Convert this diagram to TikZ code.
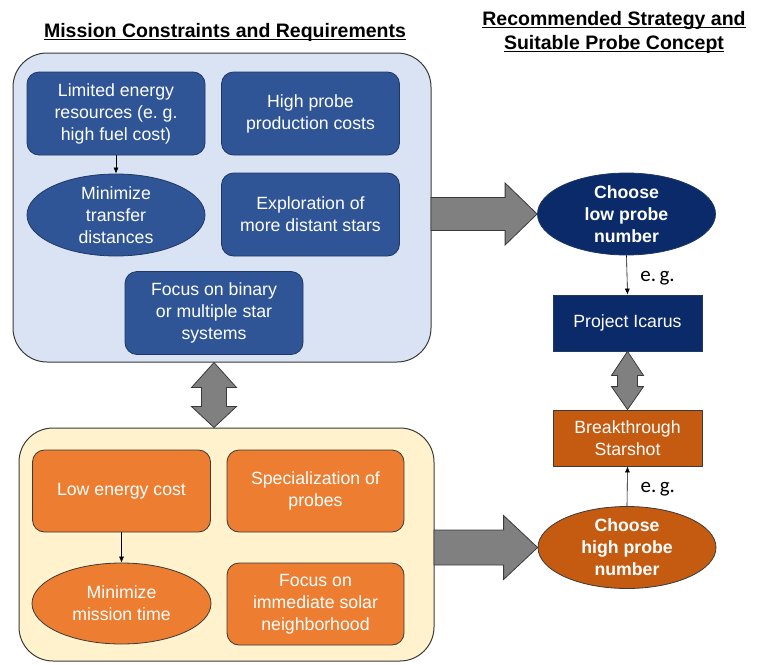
\documentclass[tikz,border=0pt]{standalone}
\usepackage{fontspec}
\setmainfont{Liberation Sans}
\newfontfamily\egfont{Carlito}
\usetikzlibrary{shapes.geometric,calc,arrows.meta}
\definecolor{contblue}{HTML}{DAE3F3}
\definecolor{boxblue}{HTML}{2F5597}
\definecolor{boxblueedge}{HTML}{1F3864}
\definecolor{navy}{HTML}{0B2A6A}
\definecolor{contcream}{HTML}{FFF2CC}
\definecolor{boxorange}{HTML}{ED7D31}
\definecolor{darkorange}{HTML}{C55A11}
\definecolor{edgegray}{HTML}{3A3A3A}
\definecolor{fatgray}{HTML}{808080}
\newcommand{\myul}[1]{{\setbox0\hbox{#1}\rlap{\rule[-3pt]{\wd0}{1.3pt}}\box0}}
\begin{document}
\begin{tikzpicture}[x=1pt,y=-1pt,
  txt/.style={text=white,align=center,font=\fontsize{17.7}{22}\selectfont,inner sep=0pt},
  container/.style={draw=edgegray,line width=1pt,rounded corners=34pt,inner sep=0pt},
  bluebox/.style={txt,rectangle,rounded corners=12pt,fill=boxblue,draw=boxblueedge,line width=0.8pt,minimum width=178pt,minimum height=83pt},
  blueell/.style={txt,ellipse,fill=boxblue,draw=boxblueedge,line width=0.8pt,minimum width=178pt,minimum height=82pt},
  orbox/.style={txt,rectangle,rounded corners=12pt,fill=boxorange,draw=edgegray,line width=0.8pt,minimum width=178pt,minimum height=82pt},
  orell/.style={txt,ellipse,fill=boxorange,draw=edgegray,line width=0.8pt,minimum width=179pt,minimum height=81pt},
  stratell/.style={txt,ellipse,line width=0.8pt,minimum width=178pt,minimum height=82pt,font=\fontsize{17.7}{22}\selectfont\bfseries},
  concept/.style={txt,rectangle,line width=0.8pt,minimum width=149pt,minimum height=56pt},
  thin/.style={draw=black,line width=0.6pt,-{Latex[length=6pt,width=5pt]}},
  fat/.style={fill=fatgray,draw=edgegray,line width=0.8pt,line join=miter},
  title/.style={font=\fontsize{19.5}{24}\selectfont\bfseries,align=center,inner sep=0pt},
  eg/.style={font=\egfont\fontsize{21}{24}\selectfont,inner sep=0pt,anchor=west}
]
\useasboundingbox (0,0) rectangle (760,664);

% titles
\node[title] (t1) at (225,32) {\myul{Mission Constraints and Requirements}};
\node[title] (t2) at (614,32) {\myul{Recommended Strategy and}\\\myul{Suitable Probe Concept}};

% containers
\node[container,fill=contblue,minimum width=418pt,minimum height=309pt] (cont1) at (222,207.5) {};
\node[container,fill=contcream,minimum width=415pt,minimum height=233pt] (cont2) at (226.5,544.5) {};

% top group
\node[bluebox] (lim) at (116,113.5) {Limited energy\\resources (e.\ g.\\high fuel cost)};
\node[bluebox] (hpc) at (310.5,113.5) {High probe\\production costs};
\node[blueell] (mtd) at (116,215) {Minimize\\transfer\\distances};
\node[bluebox] (exp) at (310.5,214.5) {Exploration of\\more distant stars};
\node[bluebox] (focus) at (214,313) {Focus on binary\\or multiple star\\systems};
\draw[thin] (lim.south) -- (mtd.north);

% bottom group
\node[orbox] (lec) at (121.5,491) {Low energy cost};
\node[orbox,minimum width=177pt] (spec) at (315.5,491) {Specialization of\\probes};
\node[orell] (mmt) at (121.5,603.5) {Minimize\\mission time};
\node[orbox,minimum width=177pt] (imm) at (315.5,604) {Focus on\\immediate solar\\neighborhood};
\draw[thin] (lec.south) -- (mmt.north);

% right column
\node[stratell,fill=navy,draw=boxblueedge] (ch1) at (626.5,214) {Choose\\low probe\\number};
\node[concept,fill=navy,draw=boxblueedge] (icarus) at (627.5,323) {Project Icarus};
\node[concept,fill=darkorange,draw=edgegray] (brk) at (627.5,438) {Breakthrough\\Starshot};
\node[stratell,fill=darkorange,draw=edgegray] (ch2) at (627,547.5) {Choose\\high probe\\number};

\draw[thin] (ch1.south) -- node[eg,xshift=13pt,yshift=-3pt] (eg1) {e.\,g.} (icarus.north);
\draw[thin] (ch2.north) -- node[eg,xshift=13pt,yshift=-3pt] (eg2) {e.\,g.} (brk.south);

% fat arrows: containers to strategies
\draw[fat] ($(cont1.east |- ch1.west)+(-0.5,-16.5)$) -- ($(ch1.west)+(-32,-16.5)$) -- ($(ch1.west)+(-32,-31)$)
  -- (ch1.west) -- ($(ch1.west)+(-32,31)$) -- ($(ch1.west)+(-32,16.5)$) -- ($(cont1.east |- ch1.west)+(-0.5,16.5)$) -- cycle;
\draw[fat] ($(cont2.east |- ch2.west)+(-0.5,-17.5)$) -- ($(ch2.west)+(-34,-17.5)$) -- ($(ch2.west)+(-34,-32)$)
  -- (ch2.west) -- ($(ch2.west)+(-34,32)$) -- ($(ch2.west)+(-34,17.5)$) -- ($(cont2.east |- ch2.west)+(-0.5,17.5)$) -- cycle;

% double arrow between containers
\coordinate (dt) at (focus.south |- cont1.south);
\coordinate (db) at (focus.south |- cont2.north);
\draw[fat] (dt) -- ++(22.5,25) -- ++(-10,0) -- ($(db)+(12.5,-21)$) -- ++(10,0) -- (db)
  -- ++(-22.5,-21) -- ++(10,0) -- ($(dt)+(-12.5,25)$) -- ++(-10,0) -- cycle;

% double arrow between concepts
\draw[fat] (icarus.south) -- ++(16,24) -- ++(-6,0) -- ($(brk.north)+(10,-23)$) -- ++(6,0) -- (brk.north)
  -- ++(-16,-23) -- ++(6,0) -- ($(icarus.south)+(-10,24)$) -- ++(-6,0) -- cycle;
\end{tikzpicture}
\end{document}
